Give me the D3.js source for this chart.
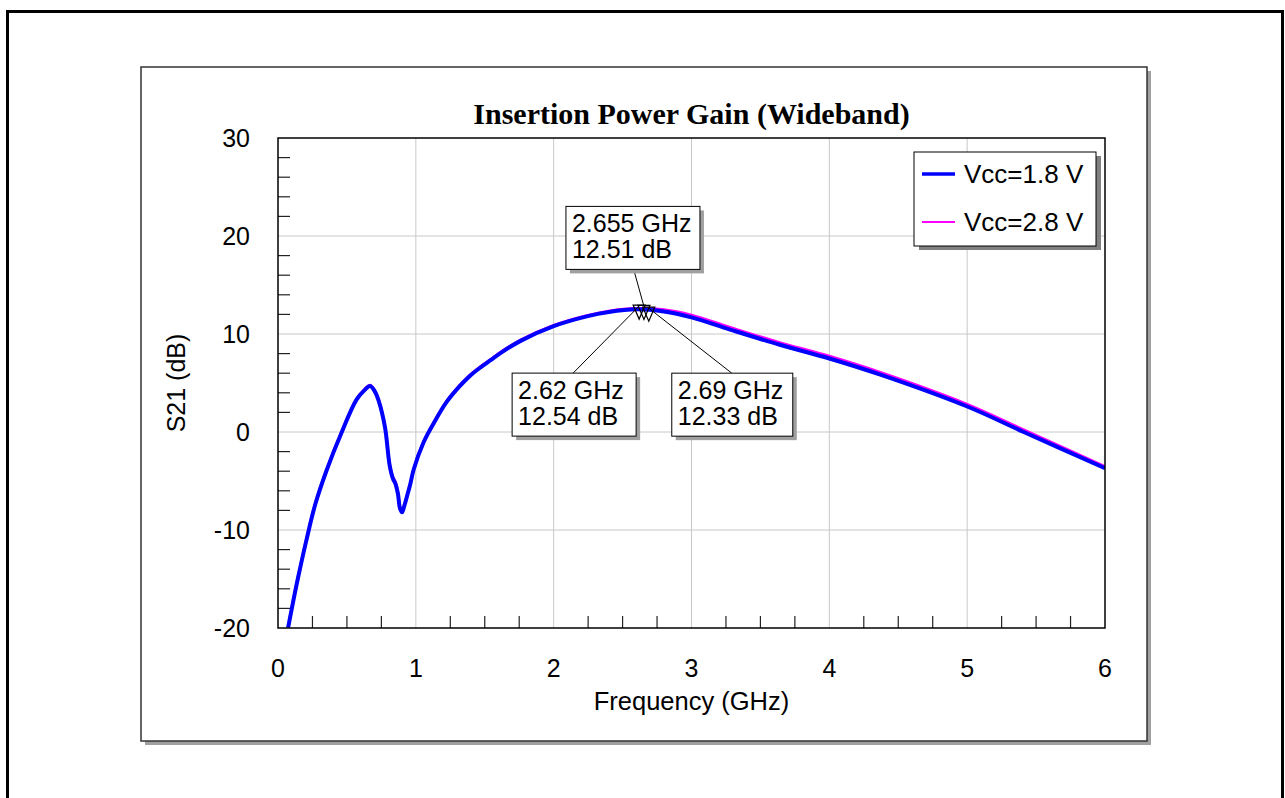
<!DOCTYPE html>
<html>
<head>
<meta charset="utf-8">
<script src="https://cdn.jsdelivr.net/npm/d3@7"></script>
<style>
body { margin: 0; background: #fff; }
svg text { font-family: Arial, "Liberation Sans", sans-serif; }
</style>
</head>
<body>
<svg id="mainsvg" width="1285" height="798"></svg>
<script>
// S21, GHz / dB
var freq18 = [0.073, 0.11, 0.145, 0.21, 0.27, 0.353, 0.46, 0.57, 0.63, 0.668, 0.70, 0.73, 0.776, 0.81, 0.835, 0.85, 0.87, 0.885, 0.90, 0.915, 0.935, 0.96, 0.985, 1.055, 1.13, 1.22, 1.32, 1.39, 1.47, 1.54, 1.63, 1.76, 2.0, 2.24, 2.4, 2.6, 2.8, 3.0, 3.28, 3.64, 4.0, 4.37, 5.0, 5.41, 6.0];
var s21_18 = [-20.0, -17.3, -14.9, -10.8, -7.4, -3.9, -0.1, 3.3, 4.3, 4.7, 4.2, 3.2, 0.5, -3.4, -4.8, -5.2, -6.3, -7.8, -8.2, -7.6, -6.6, -5.3, -3.8, -1.1, 0.9, 3.0, 4.7, 5.7, 6.6, 7.3, 8.2, 9.3, 10.8, 11.8, 12.25, 12.52, 12.3, 11.7, 10.45, 8.9, 7.5, 5.85, 2.6, 0.0, -3.7];
var freq28 = [0.073, 0.11, 0.145, 0.21, 0.27, 0.353, 0.46, 0.57, 0.63, 0.668, 0.70, 0.73, 0.776, 0.81, 0.835, 0.85, 0.87, 0.885, 0.90, 0.915, 0.935, 0.96, 0.985, 1.055, 1.13, 1.22, 1.32, 1.39, 1.47, 1.54, 1.63, 1.76, 2.0, 2.24, 2.4, 2.6, 2.8, 3.0, 3.28, 3.64, 4.0, 4.37, 5.0, 5.41, 6.0];
var s21_28 = [-19.9, -17.2, -14.8, -10.7, -7.3, -3.8, 0.0, 3.4, 4.4, 4.8, 4.3, 3.3, 0.6, -3.2, -4.6, -5.0, -6.1, -7.6, -8.0, -7.5, -6.5, -5.2, -3.7, -1.0, 1.0, 3.1, 4.8, 5.8, 6.7, 7.4, 8.3, 9.4, 10.9, 11.9, 12.35, 12.62, 12.5, 11.95, 10.7, 9.15, 7.75, 6.1, 2.85, 0.25, -3.5];

var seriesNames = ['Vcc=1.8 V', 'Vcc=2.8 V'];
var xTicks = [0, 1, 2, 3, 4, 5, 6];
var yTicks = [-20, -10, 0, 10, 20, 30];

var markerFreq = [2.655, 2.62, 2.69];
var markerDb = [12.51, 12.54, 12.33];
var markerText = [['2.655 GHz', '12.51 dB'], ['2.62 GHz', '12.54 dB'], ['2.69 GHz', '12.33 dB']];

var svg = d3.select('#mainsvg');
var plotL = 278, plotR = 1105, plotT = 138, plotB = 628;

var x = d3.scaleLinear().domain([0, 6]).range([plotL, plotR]);
var y = d3.scaleLinear().domain([-20, 30]).range([plotB, plotT]);

// outer page border
svg.append('rect').attr('x', 7.5).attr('y', 11.5).attr('width', 1275).attr('height', 820)
	.attr('fill', 'none').attr('stroke', '#000').attr('stroke-width', 3);

// chart frame with shadow
svg.append('rect').attr('x', 145).attr('y', 71).attr('width', 1006).attr('height', 674).attr('fill', '#a0a0a0');
svg.append('rect').attr('x', 141).attr('y', 67).attr('width', 1006).attr('height', 674)
	.attr('fill', '#fff').attr('stroke', '#333').attr('stroke-width', 1.5);

svg.append('text').attr('x', (plotL + plotR) / 2).attr('y', 124)
	.attr('text-anchor', 'middle')
	.style('font-family', '"Times New Roman", "Liberation Serif", serif')
	.style('font-weight', 'bold').style('font-size', '30px')
	.text('Insertion Power Gain (Wideband)');

// grid
var grid = svg.append('g');
grid.selectAll('.gx').data(xTicks.slice(1, -1)).enter().append('line')
	.attr('x1', function(d) {return x(d);}).attr('x2', function(d) {return x(d);})
	.attr('y1', plotT).attr('y2', plotB)
	.attr('stroke', '#c8c8c8').attr('stroke-width', 1);
grid.selectAll('.gy').data(yTicks.slice(1, -1)).enter().append('line')
	.attr('x1', plotL).attr('x2', plotR)
	.attr('y1', function(d) {return y(d);}).attr('y2', function(d) {return y(d);})
	.attr('stroke', '#c8c8c8').attr('stroke-width', 1);

// minor ticks, inside
var xMinor = d3.range(0, 6.001, 0.25).filter(function(d) {return d % 1 != 0;});
var yMinor = d3.range(-20, 30.001, 2).filter(function(d) {return d % 10 != 0;});
svg.append('g').selectAll('line').data(xMinor).enter().append('line')
	.attr('x1', function(d) {return x(d);}).attr('x2', function(d) {return x(d);})
	.attr('y1', plotB).attr('y2', plotB - 12)
	.attr('stroke', '#222').attr('stroke-width', 1.2);
svg.append('g').selectAll('line').data(yMinor).enter().append('line')
	.attr('x1', plotL).attr('x2', plotL + 12)
	.attr('y1', function(d) {return y(d);}).attr('y2', function(d) {return y(d);})
	.attr('stroke', '#222').attr('stroke-width', 1.2);

// tick labels
svg.append('g').selectAll('text').data(xTicks).enter().append('text')
	.attr('x', function(d) {return x(d);}).attr('y', 677)
	.attr('text-anchor', 'middle').style('font-size', '25px')
	.text(function(d) {return d;});
svg.append('g').selectAll('text').data(yTicks).enter().append('text')
	.attr('x', 250).attr('y', function(d) {return y(d) + 9;})
	.attr('text-anchor', 'end').style('font-size', '25px')
	.text(function(d) {return d;});

svg.append('text').attr('x', (plotL + plotR) / 2).attr('y', 710)
	.attr('text-anchor', 'middle').style('font-size', '25.5px').text('Frequency (GHz)');
svg.append('text').attr('transform', 'translate(185,' + (plotT + plotB) / 2 + ') rotate(-90)')
	.attr('text-anchor', 'middle').style('font-size', '25px').text('S21 (dB)');

// curves
svg.append('clipPath').attr('id', 'clip').append('rect')
	.attr('x', plotL).attr('y', plotT).attr('width', plotR - plotL).attr('height', plotB - plotT);
var line = d3.line()
	.x(function(d) {return x(d[0]);})
	.y(function(d) {return y(d[1]);})
	.curve(d3.curveCatmullRom.alpha(0.5));
var curves = svg.append('g').attr('clip-path', 'url(#clip)');
curves.append('path').datum(d3.zip(freq28, s21_28))
	.attr('d', line).attr('fill', 'none').attr('stroke', '#ff00ff').attr('stroke-width', 2.5);
curves.append('path').datum(d3.zip(freq18, s21_18))
	.attr('d', line).attr('fill', 'none').attr('stroke', '#0000ff').attr('stroke-width', 4)
	.attr('stroke-linejoin', 'round');

// plot border
svg.append('rect').attr('x', plotL).attr('y', plotT).attr('width', plotR - plotL).attr('height', plotB - plotT)
	.attr('fill', 'none').attr('stroke', '#000').attr('stroke-width', 1.5);

// markers and their labels
var boxOff = [[-78, -103, 134], [-127, 64, 124], [23, 62, 121]];
var leadFrom = [[-10, -39], [-66, 64], [83, 62]];
var ann = svg.append('g');
markerFreq.forEach(function(f, i) {
	var px = x(f), py = y(markerDb[i]);
	var bx = px + boxOff[i][0], by = py + boxOff[i][1], bw = boxOff[i][2], bh = 63;
	ann.append('line').attr('x1', px + leadFrom[i][0]).attr('y1', py + leadFrom[i][1])
		.attr('x2', px).attr('y2', py - 3)
		.attr('stroke', '#000').attr('stroke-width', 1);
	ann.append('rect').attr('x', bx + 4).attr('y', by + 4).attr('width', bw).attr('height', bh).attr('fill', '#a0a0a0');
	ann.append('rect').attr('x', bx).attr('y', by).attr('width', bw).attr('height', bh)
		.attr('fill', '#fff').attr('stroke', '#000').attr('stroke-width', 1);
	ann.append('text').attr('x', bx + 6).attr('y', by + 26).style('font-size', '25px').text(markerText[i][0]);
	ann.append('text').attr('x', bx + 6).attr('y', by + 52).style('font-size', '25px').text(markerText[i][1]);
});
ann.selectAll('.tri').data(markerFreq).enter().append('path')
	.attr('d', function(d, i) {
		var px = x(d), py = y(markerDb[i]);
		return 'M' + (px - 6) + ',' + (py - 4) + 'L' + (px + 6) + ',' + (py - 4) + 'L' + px + ',' + (py + 10) + 'Z';
	})
	.attr('fill', 'none').attr('stroke', '#000').attr('stroke-width', 1.2);

// legend
var leg = svg.append('g').attr('transform', 'translate(914,152)');
leg.append('rect').attr('x', 5).attr('y', 4).attr('width', 182).attr('height', 94).attr('fill', '#808080');
leg.append('rect').attr('width', 182).attr('height', 94)
	.attr('fill', '#fff').attr('stroke', '#000').attr('stroke-width', 1);
var legColors = ['#0000ff', '#ff00ff'];
var legWidths = [3.5, 2];
seriesNames.forEach(function(s, i) {
	leg.append('line').attr('x1', 8).attr('x2', 41).attr('y1', 22 + i * 48).attr('y2', 22 + i * 48)
		.attr('stroke', legColors[i]).attr('stroke-width', legWidths[i]);
	leg.append('text').attr('x', 50).attr('y', 31 + i * 48).style('font-size', '26px').text(s);
});
</script>
</body>
</html>
